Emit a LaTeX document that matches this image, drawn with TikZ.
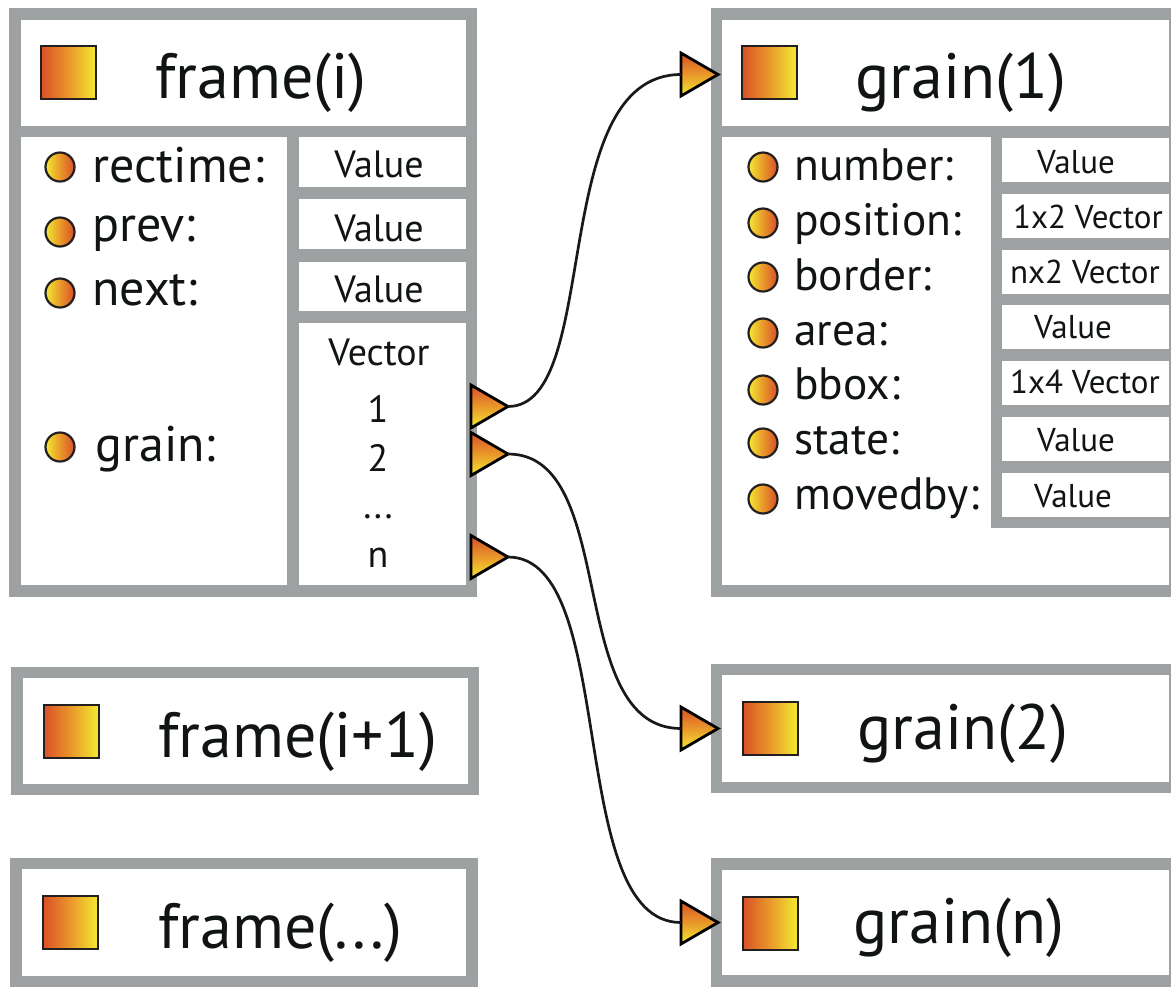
\documentclass[tikz,border=0pt]{standalone}
\usepackage{fontspec}
\setmainfont{PT Sans}
\usetikzlibrary{calc}

\definecolor{boxgray}{RGB}{158,161,161}
\definecolor{ink}{RGB}{17,20,20}
\definecolor{hot}{RGB}{217,80,39}
\definecolor{amber}{RGB}{233,152,42}
\definecolor{lemon}{RGB}{244,234,50}
\definecolor{rim}{RGB}{35,31,32}

\tikzset{
  panel/.style={fill=boxgray},
  cell/.style={fill=white},
  icon/.style={draw=rim, line width=1pt, left color=hot, right color=lemon, middle color=amber,
    minimum width=27.5pt, minimum height=26.5pt, inner sep=0pt, outer sep=0pt},
  bul/.style={circle, draw=rim, line width=1.1pt, left color=lemon, right color=hot, middle color=amber,
    minimum size=14.5pt, inner sep=0pt},
  tri/.style={draw=black, line width=1.4pt, top color=hot, bottom color=lemon, middle color=amber, line join=miter},
  slot/.style={inner sep=0pt, outer sep=0pt, minimum width=18.5pt, minimum height=21.5pt},
  wire/.style={draw=black!90, line width=1.35pt},
  head/.style={font=\fontsize{32}{36}\selectfont, text=ink, anchor=base west, inner sep=0pt},
  lblA/.style={font=\fontsize{25}{30}\selectfont, text=ink, anchor=base west, inner sep=0pt},
  lblB/.style={font=\fontsize{22.7}{26}\selectfont, text=ink, anchor=base west, inner sep=0pt},
  valA/.style={font=\fontsize{19}{22}\selectfont, text=ink, anchor=base, inner sep=0pt},
  valB/.style={font=\fontsize{16.5}{20}\selectfont, text=ink, anchor=base, inner sep=0pt},
}

\begin{document}
\begin{tikzpicture}[x=0.5pt, y=-0.5pt]
\useasboundingbox (0,0) rectangle (1171,986);
\clip (0,0) rectangle (1171,986);

% ---------- frame(i) ----------
\path[panel] (9,8) rectangle (477,597);
\path[cell] (21,20) rectangle (466,126);
\path[cell] (21,137) rectangle (287,585);
\path[cell] (299,137) rectangle (466,187);
\path[cell] (299,199) rectangle (466,249);
\path[cell] (299,262) rectangle (466,311);
\path[cell] (299,323) rectangle (466,585);

\node[icon] (fi-icon) at (68.5,72.5) {};
\node[head] (fi-title) at (155,98) {frame(i)};

\node[bul] (fi-b1) at (60,167) {};
\node[lblA] (fi-l1) at (92,182) {rectime:};
\node[bul] (fi-b2) at (60,232) {};
\node[lblA] (fi-l2) at (92,241) {prev:};
\node[bul] (fi-b3) at (60,293) {};
\node[lblA] (fi-l3) at (92,305) {next:};
\node[bul] (fi-b4) at (60,447) {};
\node[lblA] (fi-l4) at (95,461) {grain:};

\node[valA] (fi-v1) at (379,177) {Value};
\node[valA] (fi-v2) at (379,241) {Value};
\node[valA] (fi-v3) at (379,302) {Value};
\node[valA] (fi-vec) at (379,365) {Vector};
\node[valA] (fi-e1) at (378,422) {1};
\node[valA] (fi-e2) at (378,471) {2};
\node[valA] (fi-e3) at (378,518) {...};
\node[valA] (fi-en) at (378,567) {n};

% ---------- frame(i+1) ----------
\path[panel] (11,667) rectangle (479,795);
\path[cell] (23,678) rectangle (468,784);
\node[icon] (fn-icon) at (71,731) {};
\node[head] (fn-title) at (158,757) {frame(i+1)};

% ---------- frame(...) ----------
\path[panel] (10,858) rectangle (478,990);
\path[cell] (22,869) rectangle (466,976);
\node[icon] (fd-icon) at (70.5,922) {};
\node[head] (fd-title) at (158,948) {frame(...)};

% ---------- grain(1) ----------
\path[panel] (711,8) rectangle (1181,597);
\path[cell] (722,20) rectangle (1169,126);
\path[cell] (722,137) rectangle (991,585);
\path[cell] (722,528) rectangle (1169,585);
\foreach \t in {138,194,250,305,361,417,473}
  \path[cell] (1002,\t) rectangle (1169,\t+44);

\node[icon] (g1-icon) at (769,72.5) {};
\node[head] (g1-title) at (855,98) {grain(1)};

\node[bul] (g1-b1) at (763,167) {};
\node[lblB] (g1-l1) at (794,180) {number:};
\node[bul] (g1-b2) at (763,223) {};
\node[lblB] (g1-l2) at (794,235) {position:};
\node[bul] (g1-b3) at (763,277) {};
\node[lblB] (g1-l3) at (794,290) {border:};
\node[bul] (g1-b4) at (763,333) {};
\node[lblB] (g1-l4) at (794,345) {area:};
\node[bul] (g1-b5) at (763,390) {};
\node[lblB] (g1-l5) at (794,399) {bbox:};
\node[bul] (g1-b6) at (763,443) {};
\node[lblB] (g1-l6) at (794,454) {state:};
\node[bul] (g1-b7) at (763,499) {};
\node[lblB] (g1-l7) at (794,509) {movedby:};

\node[valB] (g1-v1) at (1076,173) {Value};
\node[valB] (g1-v2) at (1088,228) {1x2 Vector};
\node[valB] (g1-v3) at (1085,283) {nx2 Vector};
\node[valB] (g1-v4) at (1073,338) {Value};
\node[valB] (g1-v5) at (1085,393) {1x4 Vector};
\node[valB] (g1-v6) at (1076,451) {Value};
\node[valB] (g1-v7) at (1073,507) {Value};

% ---------- grain(2) ----------
\path[panel] (711,664) rectangle (1181,793);
\path[cell] (722,675) rectangle (1169,782);
\node[icon] (g2-icon) at (770,728.5) {};
\node[head] (g2-title) at (857,749) {grain(2)};

% ---------- grain(n) ----------
\path[panel] (711,858) rectangle (1181,990);
\path[cell] (722,870) rectangle (1169,975);
\node[icon] (gn-icon) at (770,923) {};
\node[head] (gn-title) at (853,943) {grain(n)};

% ---------- pointer sockets ----------
\node[slot] (p1) at (489.5,406.5) {};
\node[slot] (p2) at (489.5,454) {};
\node[slot] (pn) at (489.5,557) {};
\node[slot] (q1) at (699.5,74.5) {};
\node[slot] (q2) at (699.5,728.5) {};
\node[slot] (qn) at (699.5,922.5) {};

\foreach \s in {p1,p2,pn,q1,q2,qn}
  \shadedraw[tri] (\s.north west) -- (\s.east) -- (\s.south west) -- cycle;

% ---------- pointers ----------
\draw[wire] (p1.east) .. controls +(95,0) and +(-135,0) .. (q1.west);
\draw[wire] (p2.east) .. controls +(112,0) and +(-117,0) .. (q2.west);
\draw[wire] (pn.east) .. controls +(112,0) and +(-117,0) .. (qn.west);
\end{tikzpicture}
\end{document}
